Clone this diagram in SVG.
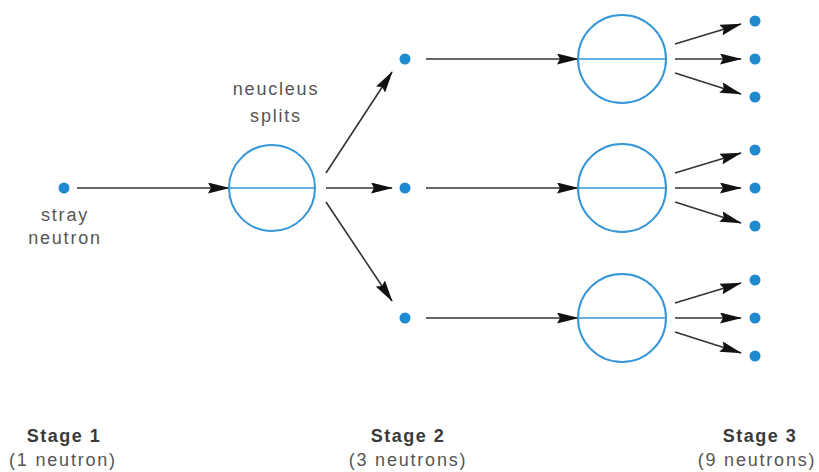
<svg xmlns="http://www.w3.org/2000/svg" width="819" height="472" viewBox="0 0 819 472">
  <style>
    .dot { fill: #1f8ad0; }
    .nucleus circle { fill: none; stroke: #3596d8; stroke-width: 2; }
    .nucleus line { stroke: #3596d8; stroke-width: 1.5; }
    .conn line { stroke: #333; stroke-width: 1.6; marker-end: url(#head); }
    .lbl { font-family: "Liberation Sans", Arial, sans-serif; font-size: 18px; fill: #555; letter-spacing: 1.8px; text-anchor: middle; }
    .stage { font-family: "Liberation Sans", Arial, sans-serif; font-size: 18px; font-weight: bold; fill: #3a3a3a; letter-spacing: 1.5px; text-anchor: middle; }
  </style>
  <defs>
    <marker id="head" markerUnits="userSpaceOnUse" markerWidth="22" markerHeight="11" refX="21" refY="5.5" orient="auto">
      <path d="M0,0 L22,5.5 L0,11 L3,5.5 z" fill="#111"/>
    </marker>
  </defs>
  <rect width="819" height="472" fill="#fff"/>

  <!-- connectors -->
  <g id="connectors" class="conn">
    <line x1="77" y1="188" x2="229" y2="188"/>
    <line x1="326" y1="173" x2="392" y2="72"/>
    <line x1="326" y1="188" x2="392" y2="188"/>
    <line x1="326" y1="202" x2="392" y2="301"/>
    <line x1="426" y1="59" x2="578" y2="59"/>
    <line x1="426" y1="188" x2="578" y2="188"/>
    <line x1="426" y1="318" x2="578" y2="318"/>
    <line x1="675" y1="44" x2="741" y2="24"/>
    <line x1="675" y1="59" x2="741" y2="59"/>
    <line x1="675" y1="73" x2="741" y2="94"/>
    <line x1="675" y1="173" x2="741" y2="153"/>
    <line x1="675" y1="188" x2="741" y2="188"/>
    <line x1="675" y1="202" x2="741" y2="223"/>
    <line x1="675" y1="303" x2="741" y2="283"/>
    <line x1="675" y1="318" x2="741" y2="318"/>
    <line x1="675" y1="332" x2="741" y2="353"/>
  </g>

  <!-- stage 1 -->
  <g id="stray-neutron">
    <circle class="dot" cx="64" cy="188" r="5.5"/>
    <text class="lbl" x="65" y="221">stray</text>
    <text class="lbl" x="65" y="244">neutron</text>
  </g>
  <g id="nucleus-1" class="nucleus">
    <circle cx="272" cy="188" r="43"/>
    <line x1="229" y1="188" x2="315" y2="188"/>
    <text class="lbl" x="276" y="95">neucleus</text>
    <text class="lbl" x="276" y="122">splits</text>
  </g>

  <!-- stage 2 -->
  <g id="neutron-2a"><circle class="dot" cx="405" cy="59" r="5.5"/></g>
  <g id="neutron-2b"><circle class="dot" cx="405" cy="188" r="5.5"/></g>
  <g id="neutron-2c"><circle class="dot" cx="405" cy="318" r="5.5"/></g>

  <g id="nucleus-2a" class="nucleus">
    <circle cx="622" cy="59" r="44"/>
    <line x1="578" y1="59" x2="666" y2="59"/>
  </g>
  <g id="nucleus-2b" class="nucleus">
    <circle cx="622" cy="188" r="44"/>
    <line x1="578" y1="188" x2="666" y2="188"/>
  </g>
  <g id="nucleus-2c" class="nucleus">
    <circle cx="622" cy="318" r="44"/>
    <line x1="578" y1="318" x2="666" y2="318"/>
  </g>

  <!-- stage 3 -->
  <g id="neutrons-3a">
    <circle class="dot" cx="755" cy="21" r="5.5"/>
    <circle class="dot" cx="755" cy="59" r="5.5"/>
    <circle class="dot" cx="755" cy="97" r="5.5"/>
  </g>
  <g id="neutrons-3b">
    <circle class="dot" cx="755" cy="150" r="5.5"/>
    <circle class="dot" cx="755" cy="188" r="5.5"/>
    <circle class="dot" cx="755" cy="226" r="5.5"/>
  </g>
  <g id="neutrons-3c">
    <circle class="dot" cx="755" cy="280" r="5.5"/>
    <circle class="dot" cx="755" cy="318" r="5.5"/>
    <circle class="dot" cx="755" cy="356" r="5.5"/>
  </g>

  <!-- stage captions -->
  <g id="caption-1">
    <text class="stage" x="64" y="442">Stage 1</text>
    <text class="lbl" x="63" y="466">(1 neutron)</text>
  </g>
  <g id="caption-2">
    <text class="stage" x="408" y="442">Stage 2</text>
    <text class="lbl" x="408" y="466">(3 neutrons)</text>
  </g>
  <g id="caption-3">
    <text class="stage" x="760" y="442">Stage 3</text>
    <text class="lbl" x="757" y="466">(9 neutrons)</text>
  </g>
</svg>
